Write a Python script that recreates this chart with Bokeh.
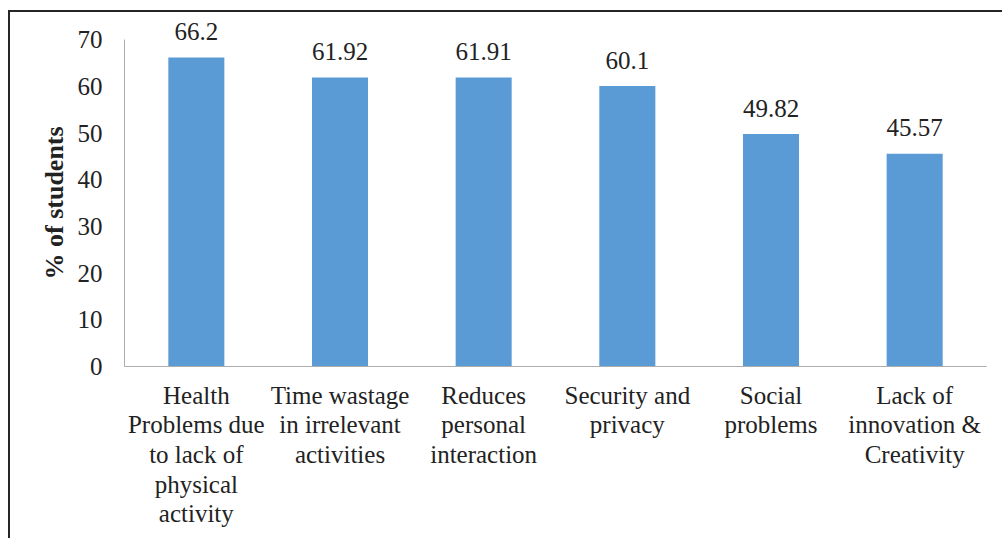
from bokeh.plotting import figure
from bokeh.models import FixedTicker, ColumnDataSource, Title
from bokeh.core.properties import value
from bokeh.embed import file_html
from bokeh.resources import INLINE

categories = [
    "Health\nProblems due\nto lack of\nphysical\nactivity",
    "Time wastage\nin irrelevant\nactivities",
    "Reduces\npersonal\ninteraction",
    "Security and\nprivacy",
    "Social\nproblems",
    "Lack of\ninnovation &\nCreativity",
]
values = [66.2, 61.92, 61.91, 60.1, 49.82, 45.57]
value_labels = ["66.2", "61.92", "61.91", "60.1", "49.82", "45.57"]
y_ticks = [0, 10, 20, 30, 40, 50, 60, 70]
y_title = "% of students"

FONT = "Times New Roman"
TXT = "#222222"

src = ColumnDataSource(dict(cat=categories, val=values, lab=value_labels))

p = figure(
    x_range=categories, y_range=(0, 75),
    width=1002, height=538,
    output_backend="svg", toolbar_location=None,
    min_border_left=124, min_border_right=16,
    min_border_top=16, min_border_bottom=172,
)
p.styles = {
    "background": "#ffffff",
    "box-shadow": "inset 8px 10px 0 0 #ffffff, inset 10px 12px 0 0 #262626",
}

p.vbar(x="cat", top="val", width=0.39, source=src, fill_color="#5B9BD5", line_color=None)
p.text(x="cat", y="val", text="lab", source=src, y_offset=-26,
       text_align="center", text_baseline="alphabetic",
       text_font=value(FONT), text_font_size="25px", text_color=TXT)

p.outline_line_color = None
p.grid.visible = False
p.background_fill_color = None
p.border_fill_color = None

ya = p.yaxis[0]
ya.bounds = (0, 70)
ya.ticker = FixedTicker(ticks=y_ticks)
ya.axis_line_color = "#ADADAD"
ya.major_tick_line_color = None
ya.minor_tick_line_color = None
ya.major_tick_out = 0
ya.major_tick_in = 0
ya.major_label_standoff = 22
ya.major_label_text_font = FONT
ya.major_label_text_font_size = "25px"
ya.major_label_text_color = TXT

ytitle = Title(text=y_title, align="left", offset=87, standoff=12,
               text_font=FONT, text_font_style="bold", text_font_size="26px",
               text_color=TXT)
p.add_layout(ytitle, "left")

xa = p.xaxis[0]
xa.axis_line_color = "#ADADAD"
xa.major_tick_line_color = None
xa.minor_tick_line_color = None
xa.major_tick_out = 0
xa.major_tick_in = 0
xa.major_label_standoff = 15
xa.major_label_text_font = FONT
xa.major_label_text_font_size = "25px"
xa.major_label_text_line_height = 1.1
xa.major_label_text_color = TXT
xa.major_label_orientation = "horizontal"

open("out.html", "w").write(file_html(p, INLINE))
